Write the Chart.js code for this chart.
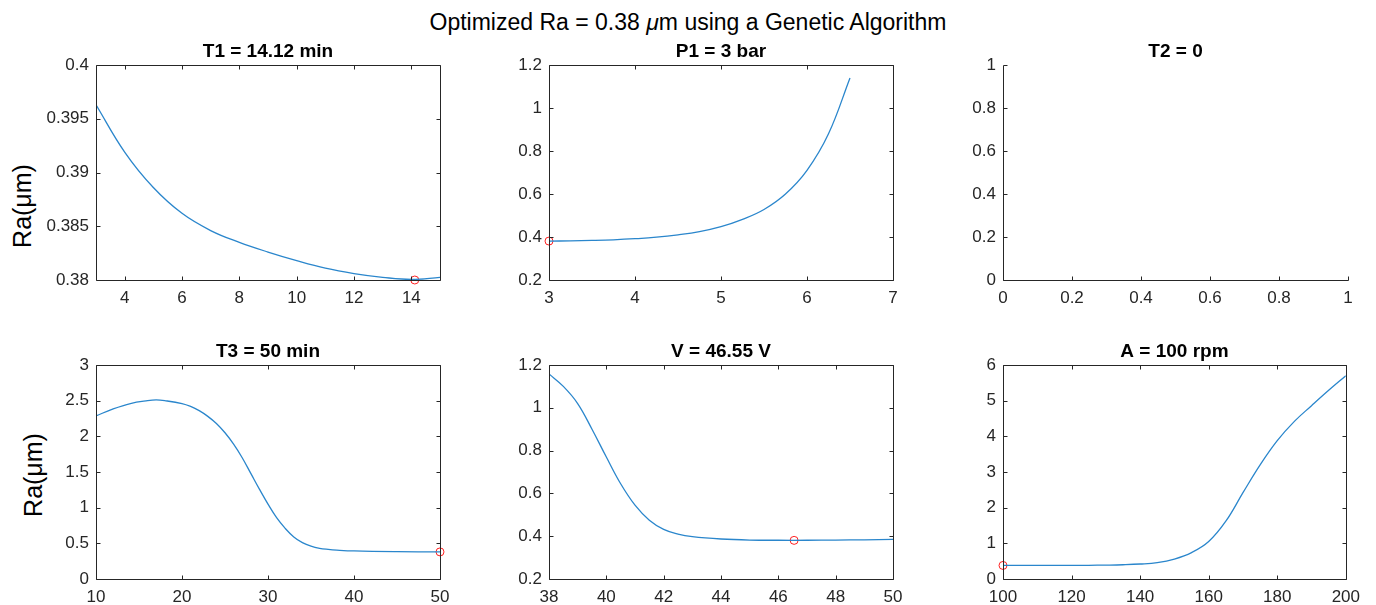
<!DOCTYPE html>
<html>
<head>
<meta charset="utf-8">
<title>Optimized Ra - Genetic Algorithm</title>
<script src="https://cdn.jsdelivr.net/npm/chart.js@4.4.1/dist/chart.umd.min.js"></script>
<style>
  body { margin: 0; width: 1376px; height: 605px; background: #fff; position: relative; overflow: hidden;
         font-family: "Liberation Sans", Arial, sans-serif; }
  canvas { position: absolute; }
  #mainTitle { position: absolute; left: 0; top: 9px; width: 1376px; text-align: center;
               font-size: 23px; line-height: 26px; color: #000; }
  .ylab { position: absolute; font-size: 25px; color: #000; white-space: nowrap;
          transform: translate(-50%, -50%) rotate(-90deg); }
</style>
</head>
<body>
<div id="mainTitle">Optimized Ra = 0.38 <i>μ</i>m using a Genetic Algorithm</div>
<div class="ylab" style="left:22px; top:206px;">Ra(μm)</div>
<div class="ylab" style="left:33px; top:475px;">Ra(μm)</div>

<canvas id="p1"></canvas>
<canvas id="p2"></canvas>
<canvas id="p3"></canvas>
<canvas id="p4"></canvas>
<canvas id="p5"></canvas>
<canvas id="p6"></canvas>

<script>
// ── data ──
const t1X  = [3, 4, 5, 6, 7, 8, 9, 10, 11, 12, 13, 14, 15];
const t1Ra = [0.3963, 0.3919, 0.3886, 0.3862, 0.3846, 0.3835, 0.3826, 0.3818, 0.3811, 0.3806, 0.38025, 0.38005, 0.38025];

const p1X  = [3, 3.25, 3.5, 3.75, 4, 4.25, 4.5, 4.75, 5, 5.25, 5.5, 5.75, 6, 6.25, 6.5];
const p1Ra = [0.381, 0.382, 0.384, 0.387, 0.392, 0.399, 0.41, 0.425, 0.448, 0.482, 0.528, 0.60, 0.71, 0.88, 1.14];

const t3X  = [10, 12, 14, 16, 17, 18, 20, 21, 22, 23, 24, 25, 26, 27, 28, 29, 30, 31, 32, 33, 34, 35, 36, 37, 38, 40, 45, 50];
const t3Ra = [2.286, 2.385, 2.46, 2.50, 2.51, 2.50, 2.46, 2.42, 2.36, 2.28, 2.18, 2.05, 1.89, 1.70, 1.48, 1.26, 1.05, 0.86, 0.71, 0.59, 0.51, 0.46, 0.43, 0.415, 0.405, 0.393, 0.383, 0.38];

const vX  = [38, 38.5, 39, 39.5, 40, 40.5, 41, 41.5, 42, 42.5, 43, 44, 45, 46, 47, 48, 49, 50];
const vRa = [1.158, 1.10, 1.02, 0.90, 0.77, 0.645, 0.545, 0.475, 0.432, 0.41, 0.398, 0.387, 0.382, 0.381, 0.381, 0.382, 0.383, 0.385];

const aX  = [100, 105, 110, 115, 120, 125, 130, 135, 140, 145, 150, 155, 160, 165, 170, 175, 180, 185, 190, 195, 200];
const aRa = [0.38, 0.38, 0.38, 0.381, 0.382, 0.384, 0.39, 0.40, 0.42, 0.46, 0.56, 0.74, 1.05, 1.62, 2.42, 3.2, 3.88, 4.42, 4.86, 5.29, 5.70];

// optimum found by the GA in each panel
const bestT1 = [14.12, 0.38];
const bestP1 = [3, 0.381];
const bestT3 = [50, 0.38];
const bestV  = [46.55, 0.3805];
const bestA  = [100, 0.38];

// tick labels
const t1Ticks = [4, 6, 8, 10, 12, 14];
const t1RaTicks = [0.38, 0.385, 0.39, 0.395, 0.4];
const p1Ticks = [3, 4, 5, 6, 7];
const raTicks12 = [0.2, 0.4, 0.6, 0.8, 1, 1.2];
const unitTicks = [0, 0.2, 0.4, 0.6, 0.8, 1];
const t3Ticks = [10, 20, 30, 40, 50];
const t3RaTicks = [0, 0.5, 1, 1.5, 2, 2.5, 3];
const vTicks = [38, 40, 42, 44, 46, 48, 50];
const aTicks = [100, 120, 140, 160, 180, 200];
const aRaTicks = [0, 1, 2, 3, 4, 5, 6];

Chart.defaults.font.family = '"Liberation Sans", Arial, sans-serif';
Chart.defaults.font.size = 17;
Chart.defaults.color = '#262626';

const Y_AXIS_W = 60, X_AXIS_H = 30, TITLE_H = 23, PAD_R = 20;

// MATLAB style box with inward ticks
const matlabAxes = {
  id: 'matlabAxes',
  afterDatasetsDraw(chart, args, opts) {
    const { ctx, chartArea: a, scales } = chart;
    const L = Math.round(a.left) + 0.5, R = Math.round(a.right) + 0.5;
    const T = Math.round(a.top) + 0.5, B = Math.round(a.bottom) + 0.5;
    const len = 4;
    ctx.save();
    ctx.strokeStyle = '#262626';
    ctx.lineWidth = 1;
    ctx.beginPath();
    scales.x.ticks.forEach(t => {
      const px = Math.round(scales.x.getPixelForValue(t.value)) + 0.5;
      ctx.moveTo(px, B); ctx.lineTo(px, B - len);
      if (opts.box) { ctx.moveTo(px, T); ctx.lineTo(px, T + len); }
    });
    scales.y.ticks.forEach(t => {
      const py = Math.round(scales.y.getPixelForValue(t.value)) + 0.5;
      ctx.moveTo(L, py); ctx.lineTo(L + len, py);
      if (opts.box) { ctx.moveTo(R, py); ctx.lineTo(R - len, py); }
    });
    ctx.moveTo(L, T); ctx.lineTo(L, B); ctx.lineTo(R, B);
    if (opts.box) { ctx.lineTo(R, T); ctx.lineTo(L, T); }
    ctx.stroke();
    ctx.restore();
  }
};

function fmt(v) {
  return String(Number(Number(v).toFixed(4)));
}

function makePlot(p) {
  const cv = document.getElementById(p.id);
  cv.width = Y_AXIS_W + p.w + PAD_R;
  cv.height = TITLE_H + p.h + X_AXIS_H;
  cv.style.left = (p.left - Y_AXIS_W) + 'px';
  cv.style.top = (p.top - TITLE_H) + 'px';

  const datasets = [];
  if (p.xs) {
    datasets.push({
      data: p.xs.map((x, i) => ({ x, y: p.ys[i] })),
      showLine: true,
      borderColor: '#2a86cc',
      borderWidth: 1.3,
      pointRadius: 0,
      tension: 0.4,
      fill: false
    });
    datasets.push({
      data: [{ x: p.best[0], y: p.best[1] }],
      showLine: false,
      pointStyle: 'circle',
      pointRadius: 4,
      pointBorderWidth: 1,
      pointBorderColor: '#ff2020',
      pointBackgroundColor: 'rgba(0,0,0,0)',
      clip: false
    });
  }

  new Chart(cv, {
    type: 'scatter',
    data: { datasets },
    options: {
      responsive: false,
      animation: false,
      events: [],
      layout: { padding: { left: 0, right: PAD_R, top: 0, bottom: 0 } },
      plugins: {
        legend: { display: false },
        tooltip: { enabled: false },
        title: {
          display: true,
          fullSize: false,
          text: p.title,
          color: '#000',
          font: { size: 19, weight: 'bold', lineHeight: '20px' },
          padding: { top: 0, bottom: 3 }
        },
        matlabAxes: { box: p.box !== false }
      },
      scales: {
        x: {
          type: 'linear', min: p.xr[0], max: p.xr[1],
          grid: { display: false, drawTicks: false },
          border: { display: false },
          ticks: { padding: 8, autoSkip: false, maxRotation: 0, callback: fmt },
          afterBuildTicks: s => { s.ticks = p.xt.map(v => ({ value: v })); },
          afterFit: s => { s.height = X_AXIS_H; }
        },
        y: {
          type: 'linear', min: p.yr[0], max: p.yr[1],
          grid: { display: false, drawTicks: false },
          border: { display: false },
          ticks: { padding: 7, autoSkip: false, callback: fmt },
          afterBuildTicks: s => { s.ticks = p.yt.map(v => ({ value: v })); },
          afterFit: s => { s.width = Y_AXIS_W; }
        }
      }
    },
    plugins: [matlabAxes]
  });
}

makePlot({ id: 'p1', title: 'T1 = 14.12 min', left: 96, top: 65, w: 344, h: 215,
  xr: [3, 15], xt: t1Ticks, yr: [0.38, 0.4], yt: t1RaTicks, xs: t1X, ys: t1Ra, best: bestT1 });
makePlot({ id: 'p2', title: 'P1 = 3 bar', left: 549, top: 65, w: 344, h: 215,
  xr: [3, 7], xt: p1Ticks, yr: [0.2, 1.2], yt: raTicks12, xs: p1X, ys: p1Ra, best: bestP1 });
makePlot({ id: 'p3', title: 'T2 = 0', left: 1003, top: 65, w: 345, h: 215,
  xr: [0, 1], xt: unitTicks, yr: [0, 1], yt: unitTicks, box: false });
makePlot({ id: 'p4', title: 'T3 = 50 min', left: 96, top: 365, w: 344, h: 214,
  xr: [10, 50], xt: t3Ticks, yr: [0, 3], yt: t3RaTicks, xs: t3X, ys: t3Ra, best: bestT3 });
makePlot({ id: 'p5', title: 'V = 46.55 V', left: 549, top: 365, w: 344, h: 214,
  xr: [38, 50], xt: vTicks, yr: [0.2, 1.2], yt: raTicks12, xs: vX, ys: vRa, best: bestV });
makePlot({ id: 'p6', title: 'A = 100 rpm', left: 1003, top: 365, w: 345, h: 214,
  xr: [100, 200], xt: aTicks, yr: [0, 6], yt: aRaTicks, xs: aX, ys: aRa, best: bestA });
</script>
</body>
</html>
